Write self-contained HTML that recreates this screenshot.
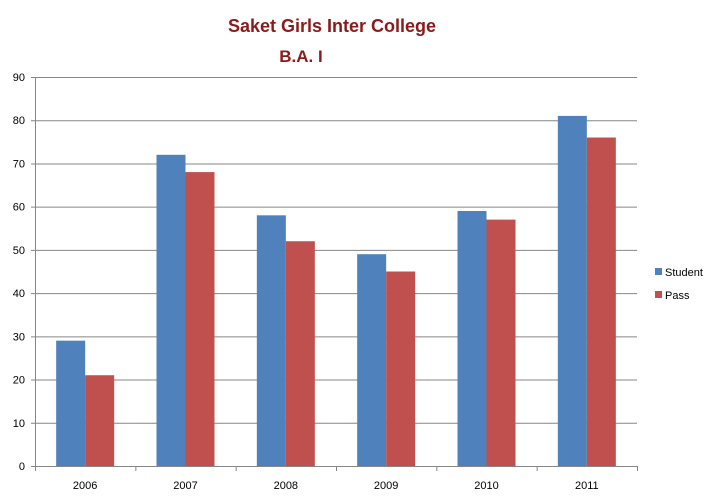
<!DOCTYPE html>
<html><head><meta charset="utf-8"><style>
body{margin:0;background:#fff;}
svg{display:block;font-family:"Liberation Sans",sans-serif;}
</style></head><body>
<svg id="c" width="704" height="500">
<text x="332" y="32" text-anchor="middle" font-size="18" font-weight="bold" fill="#8B1A1A">Saket Girls Inter College</text>
<text x="301" y="62" text-anchor="middle" font-size="17" font-weight="bold" fill="#8B1A1A">B.A. I</text>
<g id="grid"></g><g id="bars"></g><g id="axes"></g>
<g>
<rect x="655" y="268" width="7" height="7" fill="#4F81BD"/>
<text x="665" y="276" font-size="11" fill="#000">Student</text>
<rect x="655" y="291" width="7" height="7" fill="#C0504D"/>
<text x="665" y="299" font-size="11" fill="#000">Pass</text>
</g>
</svg>
<script>
const categories=["2006","2007","2008","2009","2010","2011"];
const student=[29,72,58,49,59,81];
const pass=[21,68,52,45,57,76];
const yTicks=[0,10,20,30,40,50,60,70,80,90];
const NS="http://www.w3.org/2000/svg";
const x0=35,x1=637,yTop=77,yBot=466,yMax=90;
const cw=(x1-x0)/categories.length;
const y=v=>yBot-v/yMax*(yBot-yTop);
const xc=i=>x0+cw*(i+0.5);
function mk(t,a,p){const e=document.createElementNS(NS,t);for(const k in a)e.setAttribute(k,a[k]);p.appendChild(e);return e;}
const grid=document.getElementById('grid'),bars=document.getElementById('bars'),axes=document.getElementById('axes');
yTicks.forEach(v=>{
 const l=mk('line',{x1:31,x2:x1,y1:y(v)+0.5,y2:y(v)+0.5,stroke:'#868686','stroke-width':1},grid);
 
 
 const t=mk('text',{x:25,y:y(v)+4,'text-anchor':'end','font-size':11,fill:'#000'},axes);
 t.textContent=v;
 
 
});
const bw=29;
categories.forEach((c,i)=>{
 const a=mk('rect',{x:xc(i)-bw,y:y(student[i]),width:bw,height:yBot-y(student[i]),fill:'#4F81BD'},bars);
 
 
 const b=mk('rect',{x:xc(i),y:y(pass[i]),width:bw,height:yBot-y(pass[i]),fill:'#C0504D'},bars);
 
 
 const t=mk('text',{x:xc(i),y:489,'text-anchor':'middle','font-size':11,fill:'#000'},axes);
 t.textContent=c;
 
 
});
for(let i=0;i<=categories.length;i++){
 const tk=mk('line',{x1:x0+cw*i+0.5,x2:x0+cw*i+0.5,y1:yBot,y2:yBot+5,stroke:'#868686'},axes);
 
 
}
const ya=mk('line',{x1:x0+0.5,x2:x0+0.5,y1:yTop,y2:yBot+1,stroke:'#868686'},axes);


</script>
</body></html>
